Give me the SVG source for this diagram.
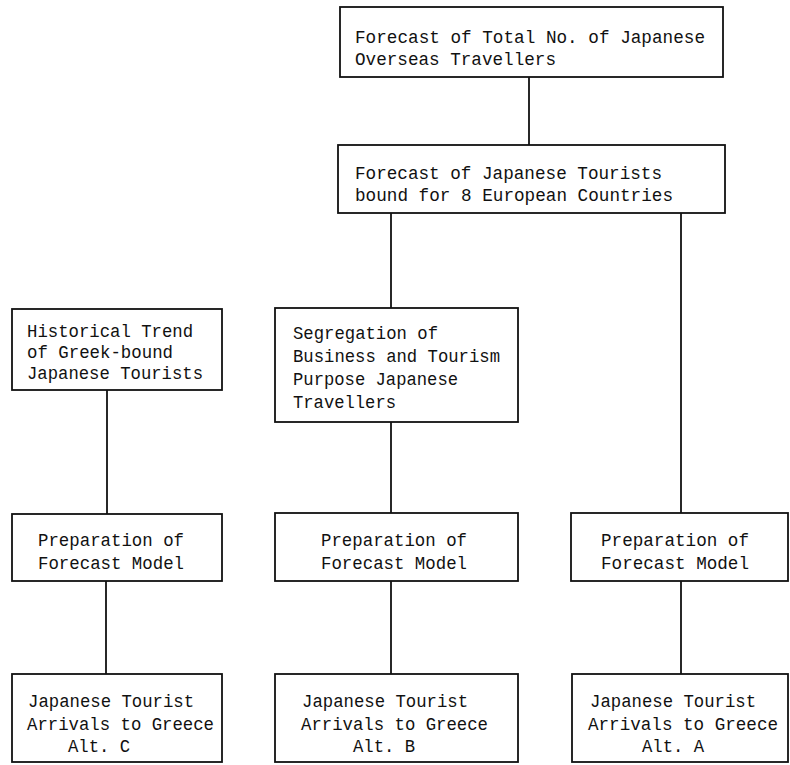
<svg xmlns="http://www.w3.org/2000/svg" width="790" height="765" viewBox="0 0 790 765">
<style>
.box{fill:none;stroke:#111;stroke-width:1.8}
.t{font-family:"Liberation Mono","DejaVu Sans Mono",monospace;font-size:18px;fill:#111}
.c{stroke:#111;stroke-width:1.8;fill:none}
</style>
<rect width="790" height="765" fill="#fff"/>
<g id="connectors">
<line class="c" x1="529" y1="77" x2="529" y2="145"/>
<line class="c" x1="391" y1="213" x2="391" y2="308"/>
<line class="c" x1="681" y1="213" x2="681" y2="513"/>
<line class="c" x1="107" y1="390" x2="107" y2="514"/>
<line class="c" x1="391" y1="422" x2="391" y2="513"/>
<line class="c" x1="106" y1="581" x2="106" y2="674"/>
<line class="c" x1="391" y1="581" x2="391" y2="674"/>
<line class="c" x1="681" y1="581" x2="681" y2="674"/>
</g>
<g id="n_total">
<rect class="box" x="340" y="7" width="383" height="70"/>
<text class="t" x="355" y="43" textLength="350" lengthAdjust="spacingAndGlyphs">Forecast of Total No. of Japanese</text>
<text class="t" x="355" y="65" textLength="201" lengthAdjust="spacingAndGlyphs">Overseas Travellers</text>
</g>
<g id="n_europe">
<rect class="box" x="338" y="145" width="387" height="68"/>
<text class="t" x="355" y="179" textLength="307" lengthAdjust="spacingAndGlyphs">Forecast of Japanese Tourists</text>
<text class="t" x="355" y="201" textLength="318" lengthAdjust="spacingAndGlyphs">bound for 8 European Countries</text>
</g>
<g id="n_historical">
<rect class="box" x="12" y="309" width="210" height="81"/>
<text class="t" x="27" y="337" textLength="166" lengthAdjust="spacingAndGlyphs">Historical Trend</text>
<text class="t" x="27" y="358" textLength="146" lengthAdjust="spacingAndGlyphs">of Greek-bound</text>
<text class="t" x="27" y="379" textLength="176" lengthAdjust="spacingAndGlyphs">Japanese Tourists</text>
</g>
<g id="n_segregation">
<rect class="box" x="275" y="308" width="243" height="114"/>
<text class="t" x="293" y="339" textLength="145" lengthAdjust="spacingAndGlyphs">Segregation of</text>
<text class="t" x="293" y="362" textLength="207" lengthAdjust="spacingAndGlyphs">Business and Tourism</text>
<text class="t" x="293" y="385" textLength="165" lengthAdjust="spacingAndGlyphs">Purpose Japanese</text>
<text class="t" x="293" y="408" textLength="103" lengthAdjust="spacingAndGlyphs">Travellers</text>
</g>
<g id="n_prep_c">
<rect class="box" x="12" y="514" width="210" height="67"/>
<text class="t" x="38" y="546" textLength="146" lengthAdjust="spacingAndGlyphs">Preparation of</text>
<text class="t" x="38" y="569" textLength="146" lengthAdjust="spacingAndGlyphs">Forecast Model</text>
</g>
<g id="n_prep_b">
<rect class="box" x="275" y="513" width="243" height="68"/>
<text class="t" x="321" y="546" textLength="146" lengthAdjust="spacingAndGlyphs">Preparation of</text>
<text class="t" x="321" y="569" textLength="146" lengthAdjust="spacingAndGlyphs">Forecast Model</text>
</g>
<g id="n_prep_a">
<rect class="box" x="571" y="513" width="217" height="68"/>
<text class="t" x="601" y="546" textLength="148" lengthAdjust="spacingAndGlyphs">Preparation of</text>
<text class="t" x="601" y="569" textLength="148" lengthAdjust="spacingAndGlyphs">Forecast Model</text>
</g>
<g id="n_alt_c">
<rect class="box" x="12" y="674" width="210" height="88"/>
<text class="t" x="28" y="707" textLength="166" lengthAdjust="spacingAndGlyphs">Japanese Tourist</text>
<text class="t" x="27" y="730" textLength="187" lengthAdjust="spacingAndGlyphs">Arrivals to Greece</text>
<text class="t" x="68" y="752" textLength="62" lengthAdjust="spacingAndGlyphs">Alt. C</text>
</g>
<g id="n_alt_b">
<rect class="box" x="275" y="674" width="243" height="88"/>
<text class="t" x="302" y="707" textLength="166" lengthAdjust="spacingAndGlyphs">Japanese Tourist</text>
<text class="t" x="301" y="730" textLength="187" lengthAdjust="spacingAndGlyphs">Arrivals to Greece</text>
<text class="t" x="353" y="752" textLength="62" lengthAdjust="spacingAndGlyphs">Alt. B</text>
</g>
<g id="n_alt_a">
<rect class="box" x="572" y="674" width="216" height="88"/>
<text class="t" x="590" y="707" textLength="166" lengthAdjust="spacingAndGlyphs">Japanese Tourist</text>
<text class="t" x="588" y="730" textLength="190" lengthAdjust="spacingAndGlyphs">Arrivals to Greece</text>
<text class="t" x="642" y="752" textLength="62" lengthAdjust="spacingAndGlyphs">Alt. A</text>
</g>
</svg>
